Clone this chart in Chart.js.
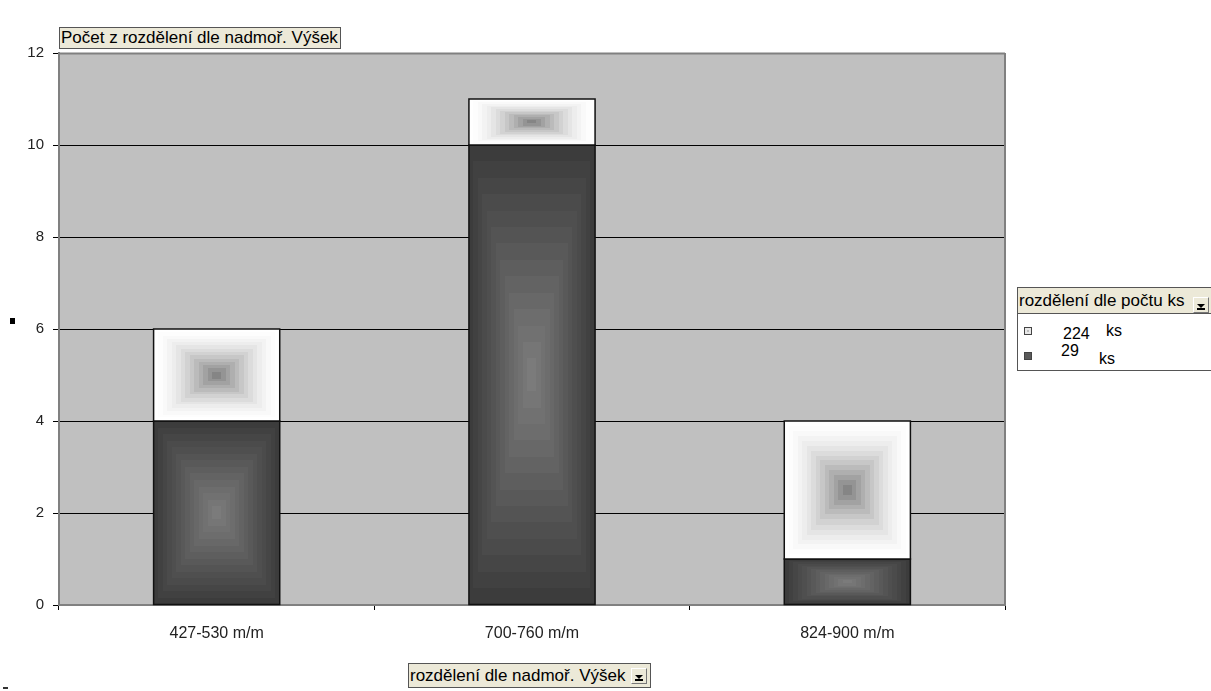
<!DOCTYPE html>
<html>
<head>
<meta charset="utf-8">
<script src="https://cdn.jsdelivr.net/npm/chart.js@4/dist/chart.umd.min.js"></script>
<style>
  html, body { margin: 0; padding: 0; background: #fff; }
  #wrap { position: relative; width: 1211px; height: 691px; overflow: hidden; }
  canvas { position: absolute; left: 0; top: 0; }
  .field {
    position: absolute; box-sizing: border-box;
    background: #ECE9D8; border: 1px solid #555;
    font: 17px "Liberation Sans", Arial, sans-serif; color: #000;
    white-space: nowrap; line-height: 20px; padding: 0 1px;
  }
  .drop {
    position: absolute; width: 16px; height: 16px; box-sizing: border-box;
    background: #ECE9D8; border: 1px solid #fff; border-right-color: #777; border-bottom-color: #777;
  }
  .drop::before {
    content: ""; position: absolute; left: 3px; top: 6px;
    border-left: 4px solid transparent; border-right: 4px solid transparent; border-top: 4px solid #000;
  }
  .drop::after {
    content: ""; position: absolute; left: 3px; top: 10px; width: 8px; height: 2px; background: #000;
  }
  #legend {
    position: absolute; left: 1017px; top: 287px; width: 200px; height: 84px;
    box-sizing: border-box; border: 1px solid #555; background: #fff;
  }
  .lg { position: absolute; font: 16px "Liberation Sans", Arial, sans-serif; line-height: 16px; color: #000; white-space: nowrap; }
  .sw { position: absolute; width: 6px; height: 6px; border: 1px solid #444; }
</style>
</head>
<body>
<div id="wrap">
  <canvas id="c" width="1211" height="691"></canvas>
  <div class="field" style="left:59px; top:27px; width:282px; height:22px;">Počet z rozdělení dle nadmoř. Výšek</div>
  <div id="legend">
    <div class="field" style="left:-1px; top:-1px; width:200px; height:27px; line-height:25px;">rozdělení dle počtu ks</div>
    <div class="drop" style="left:175px; top:9px;"></div>
    <div class="sw" id="sw0" style="left:6px; top:39px;"></div>
    <div class="lg" id="lt0" style="left:45px; top:38px;"></div>
    <div class="lg" style="left:88px; top:35px;">ks</div>
    <div class="sw" id="sw1" style="left:6px; top:64px;"></div>
    <div class="lg" id="lt1" style="left:43px; top:55px;"></div>
    <div class="lg" style="left:81px; top:63px;">ks</div>
  </div>
  <div class="field" style="left:408px; top:663px; width:243px; height:25px; line-height:23px;">rozdělení dle nadmoř. Výšek</div>
  <div class="drop" style="left:631px; top:668px;"></div>
  <div style="position:absolute; left:10px; top:318px; width:5px; height:6px; background:#000;"></div>
  <div style="position:absolute; left:3px; top:687px; width:5px; height:2px; background:#333;"></div>
</div>
<script>
// Altitude bands on the category axis
const categories = ['427-530 m/m', '700-760 m/m', '824-900 m/m'];
// Series names (pieces per tree count group)
const seriesNames = ['29', '224'];
// Counts per altitude band
const values29 = [4, 10, 1];
const values224 = [2, 1, 3];
// Y axis range
const yTicks = [0, 2, 4, 6, 8, 10, 12];

// Gradient settings for each series: edge colour, centre colour, easing exponent
const shading = [
  { edge: [60, 60, 60], centre: [128, 128, 128], exp: 1.0 },
  { edge: [255, 255, 255], centre: [118, 118, 118], exp: 1.6 }
];

document.getElementById('lt0').textContent = seriesNames[1];
document.getElementById('lt1').textContent = seriesNames[0];
document.getElementById('sw0').style.background = '#bcbcbc';
document.getElementById('sw0').style.boxShadow = 'inset 0 0 0 2px #e8e8e8';
document.getElementById('sw1').style.background = '#5a5a5a';

function mix(a, b, t) {
  return 'rgb(' + a.map((v, i) => Math.round(v + (b[i] - v) * t)).join(',') + ')';
}

// Plot-area fill and frame
const plotArea = {
  id: 'plotArea',
  beforeDraw(chart) {
    const { ctx, chartArea: a } = chart;
    ctx.save();
    ctx.fillStyle = '#C0C0C0';
    ctx.fillRect(a.left, a.top, a.right - a.left, a.bottom - a.top);
    ctx.restore();
  },
  afterDraw(chart) {
    const { ctx, chartArea: a } = chart;
    ctx.save();
    ctx.strokeStyle = '#808080';
    ctx.lineWidth = 2;
    ctx.beginPath();
    ctx.moveTo(a.left, a.top + 0.5);
    ctx.lineTo(a.right, a.top + 0.5);
    ctx.moveTo(a.right, a.top);
    ctx.lineTo(a.right, a.bottom);
    ctx.stroke();
    ctx.restore();
  }
};

// Concentric "from centre" shading inside every bar element
const centreShade = {
  id: 'centreShade',
  afterDatasetsDraw(chart) {
    const ctx = chart.ctx;
    chart.data.datasets.forEach((ds, di) => {
      const meta = chart.getDatasetMeta(di);
      const s = shading[di];
      meta.data.forEach(el => {
        const p = el.getProps(['x', 'y', 'base', 'width'], true);
        const left = p.x - p.width / 2, right = p.x + p.width / 2;
        const top = Math.min(p.y, p.base), bottom = Math.max(p.y, p.base);
        const hw = (right - left) / 2, hh = (bottom - top) / 2;
        const cx = (left + right) / 2, cy = (top + bottom) / 2;
        const N = 14;
        ctx.save();
        for (let i = 0; i < N; i++) {
          const f = i / N;
          const t = Math.pow(f, s.exp);
          ctx.fillStyle = mix(s.edge, s.centre, t);
          const w = hw * (1 - f), h = hh * (1 - f);
          ctx.fillRect(Math.round(cx - w), Math.round(cy - h), Math.round(2 * w), Math.round(2 * h));
        }
        ctx.strokeStyle = '#111';
        ctx.lineWidth = 1.5;
        ctx.strokeRect(left, top, right - left, bottom - top);
        ctx.restore();
      });
    });
  }
};

new Chart(document.getElementById('c'), {
  type: 'bar',
  data: {
    labels: categories,
    datasets: [
      { label: seriesNames[0], data: values29, backgroundColor: '#3c3c3c', borderWidth: 0,
        categoryPercentage: 1, barPercentage: 0.4 },
      { label: seriesNames[1], data: values224, backgroundColor: '#ffffff', borderWidth: 0,
        categoryPercentage: 1, barPercentage: 0.4 }
    ]
  },
  options: {
    responsive: false,
    animation: false,
    devicePixelRatio: 1,
    layout: { padding: { left: 0, top: 53, right: 206, bottom: 0 } },
    plugins: { legend: { display: false }, tooltip: { enabled: false } },
    scales: {
      x: {
        stacked: true,
        afterFit(scale) { scale.height = 86; },
        grid: { drawOnChartArea: false, drawTicks: true, tickLength: 5, color: '#000', offset: true },
        border: { color: '#808080', width: 2 },
        ticks: { color: '#222', padding: 14, font: { family: 'Liberation Sans', size: 16 } }
      },
      y: {
        stacked: true,
        min: yTicks[0],
        max: yTicks[yTicks.length - 1],
        afterFit(scale) { scale.width = 59; },
        afterBuildTicks(scale) { scale.ticks = yTicks.map(v => ({ value: v })); },
        grid: { color: '#000', lineWidth: 1, tickLength: 6, drawTicks: true },
        border: { color: '#808080', width: 2 },
        ticks: { color: '#222', padding: 9, font: { family: 'Liberation Sans', size: 15 } }
      }
    }
  },
  plugins: [plotArea, centreShade]
});
</script>
</body>
</html>
